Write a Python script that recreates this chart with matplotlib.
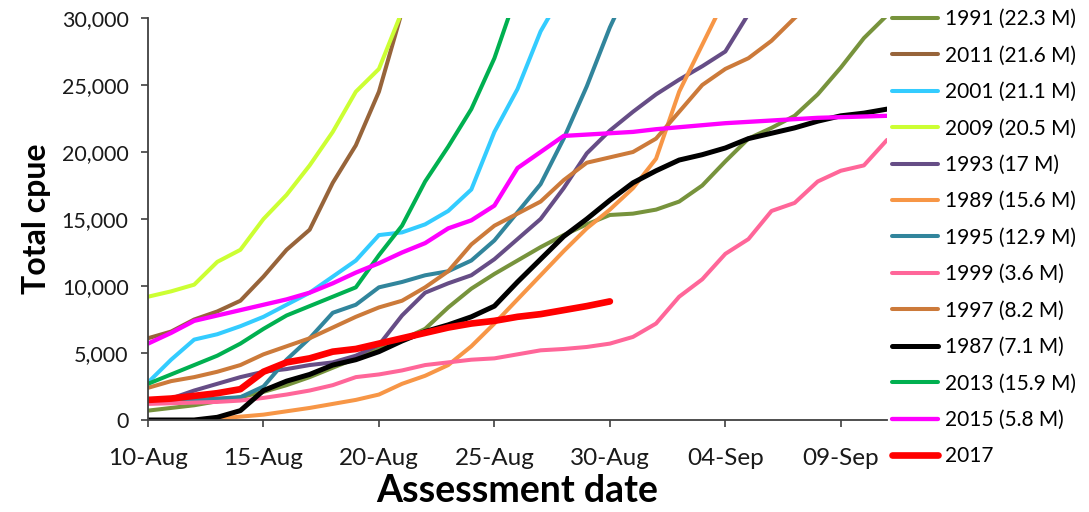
import matplotlib
matplotlib.use("Agg")
import matplotlib.pyplot as plt
import matplotlib.ticker as mticker
import numpy as np
import pandas as pd

start_date = "2017-08-10"
n_days = 33
tick_days = [0, 5, 10, 15, 20, 25, 30]
tick_labels = ["10-Aug", "15-Aug", "20-Aug", "25-Aug", "30-Aug", "04-Sep", "09-Sep"]

labels = ["1991 (22.3 M)", "2011 (21.6 M)", "2001 (21.1 M)", "2009 (20.5 M)",
          "1993 (17 M)", "1989 (15.6 M)", "1995 (12.9 M)", "1999 (3.6 M)",
          "1997 (8.2 M)", "1987 (7.1 M)", "2013 (15.9 M)", "2015 (5.8 M)", "2017"]

y1991 = [700, 900, 1100, 1400, 1700, 2100, 2600, 3200, 3900, 4600, 5300, 6000, 6800,
         8400, 9800, 10900, 11900, 12900, 13800, 14600, 15300, 15400, 15700, 16300,
         17500, 19300, 21000, 21800, 22700, 24300, 26300, 28500, 30200]
y2011 = [6100, 6600, 7500, 8100, 8900, 10700, 12700, 14200, 17700, 20500, 24500, 30500]
y2001 = [2800, 4500, 6000, 6400, 7000, 7700, 8600, 9500, 10700, 11900, 13800, 14000,
         14600, 15600, 17200, 21500, 24700, 29000, 32000]
y2009 = [9200, 9600, 10100, 11800, 12700, 15000, 16800, 19000, 21500, 24500, 26200, 30500]
y1993 = [1300, 1600, 2200, 2700, 3200, 3600, 3800, 4100, 4300, 4800, 5600, 7800, 9500,
         10200, 10800, 12000, 13500, 15000, 17300, 19900, 21600, 23000, 24300, 25400,
         26400, 27500, 30300]
y1989 = [0, 0, 0, 100, 250, 400, 650, 900, 1200, 1500, 1900, 2700, 3300, 4100, 5500,
         7200, 9000, 10800, 12600, 14300, 15700, 17300, 19500, 24500, 28000, 31500]
y1995 = [1300, 1400, 1500, 1600, 1700, 2500, 4500, 6100, 8000, 8600, 9900, 10300, 10800,
         11100, 11900, 13400, 15500, 17600, 21000, 24900, 29300, 33000]
y1999 = [1200, 1250, 1300, 1350, 1450, 1650, 1900, 2200, 2600, 3200, 3400, 3700, 4100,
         4300, 4500, 4600, 4900, 5200, 5300, 5450, 5700, 6200, 7200, 9200, 10500, 12400,
         13500, 15600, 16200, 17800, 18600, 19000, 20900]
y1997 = [2400, 2900, 3200, 3600, 4100, 4900, 5500, 6100, 6900, 7700, 8400, 8900, 9900,
         11100, 13100, 14500, 15400, 16300, 17900, 19200, 19600, 20000, 21000, 23000,
         25000, 26200, 27000, 28300, 30000, 31500]
y1987 = [0, 0, 0, 200, 700, 2200, 2900, 3400, 4100, 4500, 5100, 5900, 6600, 7100, 7700,
         8500, 10300, 12000, 13700, 15000, 16400, 17700, 18600, 19400, 19800, 20300,
         21000, 21400, 21800, 22300, 22700, 22900, 23200]
y2013 = [2700, 3400, 4100, 4800, 5700, 6800, 7800, 8500, 9200, 9900, 12300, 14500, 17800,
         20400, 23200, 27000, 32000]
y2015 = [5700, 6500, 7400, 7800, 8200, 8600, 9000, 9500, 10200, 11000, 11700, 12500,
         13200, 14300, 14900, 16000, 18800, 20000, 21200, 21300, 21400, 21500, 21700,
         21850, 22000, 22150, 22250, 22350, 22450, 22550, 22600, 22650, 22700]
y2017 = [1500, 1600, 1800, 2000, 2300, 3600, 4300, 4600, 5100, 5300, 5700, 6100, 6500,
         6900, 7200, 7400, 7700, 7900, 8200, 8500, 8850]

series = [y1991, y2011, y2001, y2009, y1993, y1989, y1995, y1999, y1997, y1987,
          y2013, y2015, y2017]
colors = ["#77933C", "#97643A", "#33CCFF", "#CCFF33", "#664D86", "#F79646", "#31859C",
          "#FF6699", "#CC7A3A", "#000000", "#00B050", "#FF00FF", "#FF0000"]
widths = [2.9, 2.9, 2.9, 2.9, 2.9, 2.9, 2.9, 2.9, 2.9, 3.6, 2.9, 3.1, 4.8]

dates = pd.date_range(start_date, periods=n_days, freq="D")

plt.rcParams['font.family'] = ['Lato', 'DejaVu Sans']
fig = plt.figure(figsize=(10.89, 5.12), dpi=100)
ax = fig.add_axes([148 / 1089, 1 - 420 / 512, (887 - 148) / 1089, (420 - 18) / 512])

for vals, lab, col, lw in zip(series, labels, colors, widths):
    ax.plot(dates[:len(vals)], vals, color=col, lw=lw, label=lab,
            solid_capstyle='round', solid_joinstyle='round')

ax.set_ylim(0, 30000)
ax.set_xlim(dates[0], dates[-1])
ax.set_xticks([dates[i] for i in tick_days])
ax.set_xticklabels(tick_labels)
ax.yaxis.set_major_locator(mticker.MultipleLocator(5000))
ax.yaxis.set_major_formatter(mticker.FuncFormatter(lambda v, p: f"{int(v):,}"))
ax.tick_params(axis='both', length=5, width=1.2, color="#404040",
               direction='out', labelcolor="#1a1a1a")
ax.tick_params(axis='y', labelsize=15.5, pad=9)
ax.tick_params(axis='x', labelsize=17.5, pad=15)
for s in ['top', 'right']:
    ax.spines[s].set_visible(False)
for s in ['left', 'bottom']:
    ax.spines[s].set_color("#404040")
    ax.spines[s].set_linewidth(1.3)

ax.set_xlabel("Assessment date", fontsize=27, fontweight='bold', labelpad=4)
ax.set_ylabel("Total cpue", fontsize=23, fontweight='bold', labelpad=8)

leg = ax.legend(loc='upper left', bbox_to_anchor=(892 / 1089, 1 - 9 / 512),
                bbox_transform=fig.transFigure, frameon=False, fontsize=15,
                handlelength=2.2, handletextpad=0.33, labelspacing=0.79,
                borderpad=0, borderaxespad=0)

fig.savefig("out.png", dpi=100)
